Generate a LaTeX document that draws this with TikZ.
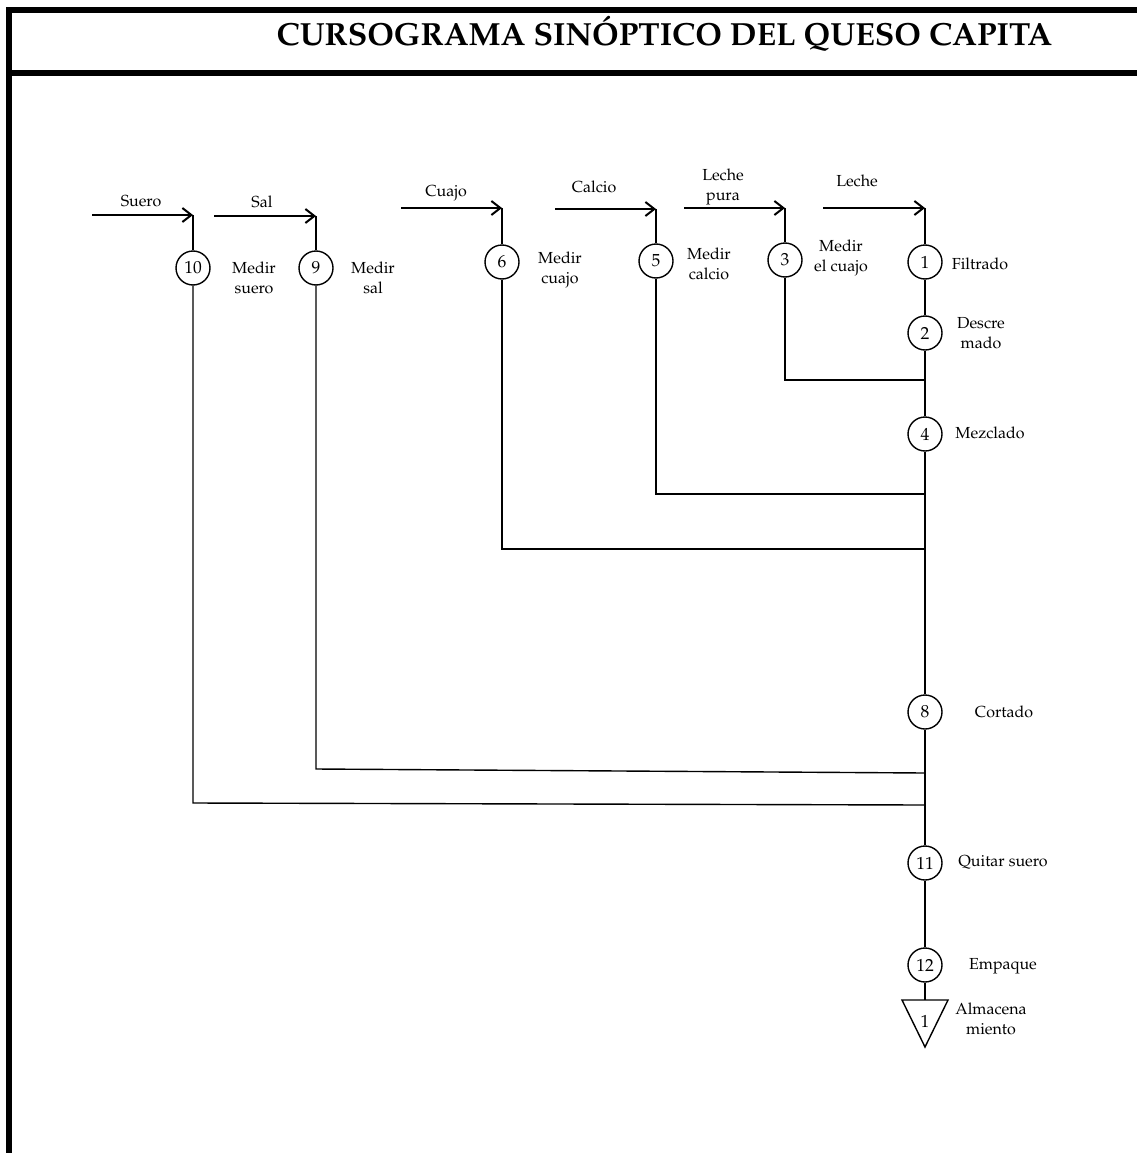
\documentclass[tikz,border=0pt]{standalone}
\usepackage[T1]{fontenc}
\usepackage{mathpazo}
\usetikzlibrary{arrows.meta}
\newcommand{\lbl}{\fontsize{16}{20}\selectfont}
\newcommand{\numfont}{\fontsize{17.5}{20}\selectfont}
\tikzset{
  proc/.style={circle,draw,line width=1.4pt,minimum size=34pt,inner sep=0pt,font=\numfont},
  lab/.style={font=\lbl,align=center},
  flow/.style={line width=1.4pt},
  feed/.style={line width=1.8pt,-{Straight Barb[length=9pt,width=14pt,line width=2pt]}},
  frame/.style={line width=6pt}
}
\begin{document}
\begin{tikzpicture}[x=1pt,y=-1pt]
\useasboundingbox (0,0) rectangle (1137,1153);
% frame and title band
\draw[frame] (9,1153) -- (9,7);
\draw[frame] (6,10.5) -- (1137,10.5);
\draw[frame] (6,73) -- (1137,73);
\node[font=\fontsize{32}{36}\selectfont\bfseries] (title) at (664.5,34) {CURSOGRAMA SIN\'OPTICO DEL QUESO CAPITA};

% operations
\node[proc] (c10) at (193,268) {10};
\node[proc] (c9)  at (316,268) {9};
\node[proc] (c6)  at (502,262) {6};
\node[proc] (c5)  at (656,261) {5};
\node[proc] (c3)  at (785,260) {3};
\node[proc] (c1)  at (925,262) {1};
\node[proc] (c2)  at (925,333) {2};
\node[proc] (c4)  at (925,434) {4};
\node[proc] (c8)  at (925,712) {8};
\node[proc] (c11) at (925,863) {11};
\node[proc] (c12) at (925,965) {12};

% storage
\coordinate (alm) at (925,1000);
\draw[flow] (902,1000) -- (948,1000) -- (925,1047) -- cycle;
\node[font=\numfont] (a1) at (925,1021) {1};

% operation labels
\node[lab] (l10) at (254,278) {Medir\\suero};
\node[lab] (l9)  at (373,278) {Medir\\sal};
\node[lab] (l6)  at (560,270) {Medir\\cuajo};
\node[lab] (l5)  at (709,264) {Medir\\calcio};
\node[lab] (l3)  at (841,258) {Medir\\el cuajo};
\node[lab] (l1)  at (980,264) {Filtrado};
\node[lab] (l2)  at (981,333) {Descre\\mado};
\node[lab] (l4)  at (990,433) {Mezclado};
\node[lab] (l8)  at (1004,712) {Cortado};
\node[lab] (l11) at (1003,862) {Quitar suero};
\node[lab] (l12) at (1003,966) {Empaque};
\node[lab] (la)  at (991,1019) {Almacena\\miento};

% incoming materials
\coordinate (s10) at (92,215);  \coordinate (t10) at (193,215);
\coordinate (s9)  at (214,216); \coordinate (t9)  at (316,216);
\coordinate (s6)  at (401,208); \coordinate (t6)  at (502,208);
\coordinate (s5)  at (555,209); \coordinate (t5)  at (656,209);
\coordinate (s3)  at (684,208); \coordinate (t3)  at (785,208);
\coordinate (s1)  at (823,208); \coordinate (t1)  at (925,208);
\draw[feed] (s10) -- (t10);
\draw[feed] (s9) -- (t9);
\draw[feed] (s6) -- (t6);
\draw[feed] (s5) -- (t5);
\draw[feed] (s3) -- (t3);
\draw[feed] (s1) -- (t1);
\draw[flow] (t10) -- (c10);
\draw[flow] (t9) -- (c9);
\draw[flow] (t6) -- (c6);
\draw[flow] (t5) -- (c5);
\draw[flow] (t3) -- (c3);
\draw[flow] (t1) -- (c1);
\node[lab] (m10) at (141,201) {Suero};
\node[lab] (m9)  at (262,202) {Sal};
\node[lab] (m6)  at (446,193) {Cuajo};
\node[lab] (m5)  at (594,187) {Calcio};
\node[lab] (m3)  at (723,187) {Leche\\pura};
\node[lab] (m1)  at (857,181) {Leche};

% junctions on the main line
\coordinate (j3)  at (925,380);
\coordinate (j5)  at (925,494);
\coordinate (j6)  at (925,549);
\coordinate (k9)  at (316,769);
\coordinate (j9)  at (925,773);
\coordinate (k10) at (193,803);
\coordinate (j10) at (925,805);

% main line
\draw[flow] (c1) -- (c2);
\draw[flow] (c2) -- (j3) -- (c4);
\draw[flow] (c4) -- (j5) -- (j6) -- (c8);
\draw[flow] (c8) -- (j9) -- (j10) -- (c11);
\draw[flow] (c11) -- (c12);
\draw[flow] (c12) -- (alm);

% branches joining the main line
\draw[flow] (c3) |- (j3);
\draw[flow] (c5) |- (j5);
\draw[flow] (c6) |- (j6);
\draw[flow] (c9) -- (k9) -- (j9);
\draw[flow] (c10) -- (k10) -- (j10);
\end{tikzpicture}
\end{document}
